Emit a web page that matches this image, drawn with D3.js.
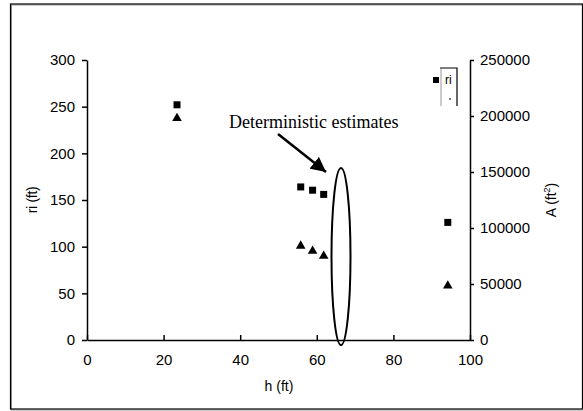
<!DOCTYPE html>
<html>
<head>
<meta charset="utf-8">
<script src="https://cdn.jsdelivr.net/npm/d3@7"></script>
<style>
  body { margin: 0; background: #fff; }
  text { font-family: Arial, "Liberation Sans", sans-serif; }
</style>
</head>
<body>
<svg width="583" height="411"></svg>
<script>
// data
const hValues = [23.5, 55.8, 58.9, 61.8, 94.2];
const rValues = [252, 164, 160.5, 156, 126];          // left axis, ft
const aValues = [198000, 84000, 79500, 75000, 48500];  // right axis, ft^2
const xTicks = [0, 20, 40, 60, 80, 100];
const yLeftTicks = [0, 50, 100, 150, 200, 250, 300];
const yRightTicks = [0, 50000, 100000, 150000, 200000, 250000];

const svg = d3.select("svg");

// outer frame with a light shadow
svg.append("rect").attr("x", 11.5).attr("y", 5).attr("width", 572).attr("height", 405)
    .attr("fill", "none").attr("stroke", "#999").attr("stroke-width", 1);
svg.append("rect").attr("x", 10.5).attr("y", 4).attr("width", 572).attr("height", 405)
    .attr("fill", "none").attr("stroke", "#000").attr("stroke-width", 1.2);

const x = d3.scaleLinear().domain([0, 100]).range([87, 470]);
const yL = d3.scaleLinear().domain([0, 300]).range([340, 60]);
const yR = d3.scaleLinear().domain([0, 250000]).range([340, 60]);

// x axis, ticks pointing up into the plot
const gx = svg.append("g").attr("transform", "translate(0,340)")
    .call(d3.axisBottom(x).tickValues(xTicks).tickSizeInner(-5).tickSizeOuter(0).tickPadding(14));
// left axis
const gl = svg.append("g").attr("transform", "translate(87,0)")
    .call(d3.axisLeft(yL).tickValues(yLeftTicks).tickSize(5).tickSizeOuter(0).tickPadding(7));
// right axis
const gr = svg.append("g").attr("transform", "translate(470,0)")
    .call(d3.axisRight(yR).tickValues(yRightTicks).tickFormat(d3.format("d"))
        .tickSize(4).tickSizeOuter(0).tickPadding(6));

[gx, gl, gr].forEach(g => {
    g.selectAll("path, line").attr("stroke", "#000").attr("stroke-width", 1.5);
    g.selectAll("text").attr("font-size", 15).attr("fill", "#000")
        .style("font-family", "Arial, 'Liberation Sans', sans-serif");
});

// axis titles
svg.append("text").attr("x", 279).attr("y", 391).attr("text-anchor", "middle")
    .attr("font-size", 14).text("h (ft)");
svg.append("text").attr("transform", "translate(37,200) rotate(-90)").attr("text-anchor", "middle")
    .attr("font-size", 14).attr("letter-spacing", -0.3).text("ri (ft)");
const aTitle = svg.append("text").attr("transform", "translate(556,200) rotate(-90)")
    .attr("text-anchor", "middle").attr("font-size", 14);
aTitle.append("tspan").text("A (ft");
aTitle.append("tspan").attr("dy", -6).attr("font-size", 9).text("2");
aTitle.append("tspan").attr("dy", 6).text(")");

// squares: ri
svg.selectAll(".sq").data(hValues).enter().append("rect")
    .attr("class", "sq")
    .attr("x", (d) => x(d) - 3.5)
    .attr("y", (d, i) => yL(rValues[i]) - 3.5)
    .attr("width", 7).attr("height", 7).attr("fill", "#000");

// triangles: A
const tri = d3.symbol().type(d3.symbolTriangle).size(40);
svg.selectAll(".tri").data(hValues).enter().append("path")
    .attr("class", "tri")
    .attr("d", tri)
    .attr("transform", (d, i) => `translate(${x(d)},${yR(aValues[i])})`)
    .attr("fill", "#000");

// ellipse around the deterministic estimates
svg.append("ellipse").attr("cx", 341).attr("cy", 256.5).attr("rx", 9.5).attr("ry", 88.5)
    .attr("fill", "none").attr("stroke", "#000").attr("stroke-width", 2);

// annotation text + arrow
svg.append("text").attr("x", 229).attr("y", 128)
    .style("font-family", "'Liberation Serif', 'Times New Roman', serif")
    .attr("font-size", 18).text("Deterministic estimates");
svg.append("defs").append("marker").attr("id", "ah")
    .attr("viewBox", "0 0 10 10").attr("refX", 10).attr("refY", 5)
    .attr("markerWidth", 6).attr("markerHeight", 6).attr("orient", "auto")
    .append("path").attr("d", "M0,0L10,5L0,10z").attr("fill", "#000");
svg.append("line").attr("x1", 278).attr("y1", 134).attr("x2", 326).attr("y2", 172)
    .attr("stroke", "#000").attr("stroke-width", 2.5).attr("marker-end", "url(#ah)");

// legend (partly hidden in the original)
const lg = svg.append("g");
lg.append("line").attr("x1", 441).attr("y1", 69).attr("x2", 441).attr("y2", 106)
    .attr("stroke", "#999").attr("stroke-width", 1);
lg.append("polyline").attr("points", "440,68 457,68 457,106")
    .attr("fill", "none").attr("stroke", "#000").attr("stroke-width", 1.2);
lg.append("rect").attr("x", 433).attr("y", 77).attr("width", 6).attr("height", 6).attr("fill", "#000");
lg.append("text").attr("x", 445).attr("y", 84).attr("font-size", 12).text("ri");
lg.append("line").attr("x1", 449).attr("y1", 99).attr("x2", 451).attr("y2", 99)
    .attr("stroke", "#000").attr("stroke-width", 1);
</script>
</body>
</html>
